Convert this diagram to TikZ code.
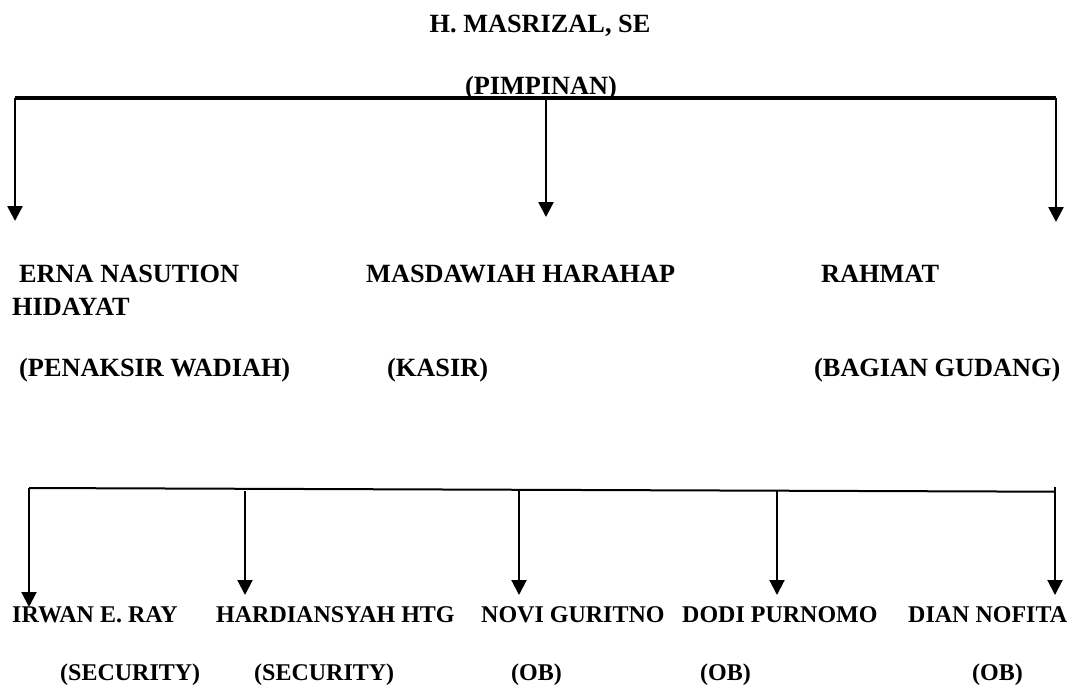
\documentclass[tikz,border=0pt]{standalone}
\usepackage{fontspec}
\setmainfont{Liberation Serif}
\usetikzlibrary{arrows.meta}
\tikzset{
  org/.style={inner sep=0pt, text=black},
  big/.style={org, font=\fontsize{26.3}{30}\selectfont\bfseries},
  small/.style={org, font=\fontsize{24}{28}\selectfont\bfseries},
  bar/.style={draw=black, line width=4pt},
  link/.style={draw=black, line width=2pt},
  arr/.style={-{Triangle[length=15pt,width=15pt]}, draw=black, line width=2.5pt},
  sarr/.style={arr, line width=2pt}
}
\begin{document}
\begin{tikzpicture}[x=1pt,y=-1pt]
  \useasboundingbox (0,0) rectangle (1074,689);
  % pimpinan
  \node[big, anchor=base] (ketua) at (540,32) {H. MASRIZAL, SE};
  \node[big, anchor=base] (pimp) at (541,94) {(PIMPINAN)};
  % staf baris pertama
  \node[big, anchor=base west] (erna) at (19,282) {ERNA NASUTION};
  \node[big, anchor=base west] (erna2) at (12,315) {HIDAYAT};
  \node[big, anchor=base west] (masda) at (366,282) {MASDAWIAH HARAHAP};
  \node[big, anchor=base west] (rahmat) at (821,282) {RAHMAT};
  \node[big, anchor=base west] (penaksir) at (19,376) {(PENAKSIR WADIAH)};
  \node[big, anchor=base west] (kasir) at (387,376) {(KASIR)};
  \node[big, anchor=base west] (gudang) at (814,376) {(BAGIAN GUDANG)};
  % staf baris kedua
  \node[small, anchor=base west] (irwan) at (12,622) {IRWAN E. RAY};
  \node[small, anchor=base west] (hardi) at (216,622) {HARDIANSYAH HTG};
  \node[small, anchor=base west] (novi) at (481,622) {NOVI GURITNO};
  \node[small, anchor=base west] (dodi) at (682,622) {DODI PURNOMO};
  \node[small, anchor=base west] (dian) at (908,622) {DIAN NOFITA};
  \node[small, anchor=base west] (sec1) at (60,680) {(SECURITY)};
  \node[small, anchor=base west] (sec2) at (254,680) {(SECURITY)};
  \node[small, anchor=base west] (ob1) at (511,680) {(OB)};
  \node[small, anchor=base west] (ob2) at (700,680) {(OB)};
  \node[small, anchor=base west] (ob3) at (972,680) {(OB)};
  % garis atas
  \coordinate (tl) at (15,98);
  \coordinate (tm) at (546,98);
  \coordinate (tr) at (1056,98);
  \coordinate (ernaT) at (15,221);
  \coordinate (masdaT) at (546,217);
  \coordinate (rahmatT) at (1056,222);
  \draw[bar] (tl) -- (tr);
  \draw[arr] (tl) -- (ernaT);
  \draw[arr] (tm) -- (masdaT);
  \draw[arr] (tr) -- (rahmatT);
  % garis bawah
  \coordinate (bl) at (29,488);
  \coordinate (br) at (1055,491.7);
  \coordinate (brTop) at (1055,487);
  \coordinate (b2) at (245,491);
  \coordinate (b3) at (519,490);
  \coordinate (b4) at (777,490.5);
  \draw[link] (bl) -- (br);
  \draw[sarr] (bl) -- (29,607) coordinate (irwanT);
  \draw[sarr] (b2) -- (245,595) coordinate (hardiT);
  \draw[sarr] (b3) -- (519,595) coordinate (noviT);
  \draw[sarr] (b4) -- (777,595) coordinate (dodiT);
  \draw[sarr] (brTop) -- (1055,595) coordinate (dianT);
\end{tikzpicture}
\end{document}
